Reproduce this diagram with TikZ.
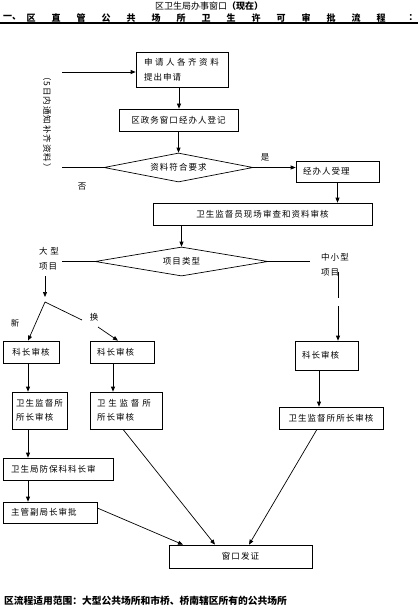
\documentclass[tikz,border=0pt]{standalone}
\usepackage{fontspec}
\setmainfont{Noto Sans CJK SC}
\newfontfamily\bodyface[LetterSpace=12]{Noto Sans CJK SC}
\newfontfamily\wideface[LetterSpace=30]{Noto Sans CJK SC}
\newcommand\myfont{\bodyface\fontsize{8.5}{14.5}\selectfont}
\usetikzlibrary{arrows.meta,shapes.geometric,calc}
\begin{document}
\begin{tikzpicture}[x=1pt,y=-1pt,
  box/.style={draw, line width=0.7pt, inner sep=0pt, font=\myfont, align=left},
  lbox/.style={box, inner xsep=7pt, align=left},
  dia/.style={draw, line width=0.7pt, diamond, aspect=5, inner sep=0pt, font=\myfont},
  lab/.style={inner sep=0pt, font=\myfont, align=left},
  con/.style={line width=0.7pt},
  arr/.style={con, -{Triangle[length=5pt,width=4pt]}}]
\useasboundingbox (0,0) rectangle (418,615);
% titles
\node[inner sep=0pt, font=\fontsize{9}{11}\selectfont] (t1) at (209,6) {区卫生局办事窗口\textbf{（现在）}};
\node[inner sep=0pt, font=\bfseries\fontsize{9}{11}\selectfont] (t2a) at (12,18) {一、};
\foreach \c [count=\i from 0] in {区,直,管,公,共,场,所,卫,生,许,可,审,批,流,程}
  \node[inner sep=0pt, font=\bfseries\fontsize{9}{11}\selectfont] (t2\i) at (31+25*\i,18) {\c};
\node[inner sep=0pt, font=\bfseries\fontsize{9}{11}\selectfont] (t2z) at (413,18) {：};
\draw[line width=1.2pt] (0,23) -- (418,23);
% top part
\node[lbox, inner xsep=8pt, text width=76pt, minimum height=35pt] (b1) at (182,69.5) {{\wideface\fontsize{8.5}{14.5}\selectfont 申请人各齐资料}\\提出申请};
\node[box, minimum width=119pt, minimum height=22pt] (b2) at (178.5,120) {区政务窗口经办人登记};
\node[dia, minimum width=149pt, minimum height=29pt] (d1) at (178.5,167.5) {资料符合要求};
\node[lbox, text width=69pt, minimum height=21pt] (b3) at (337.5,171.5) {经办人受理};
\node[box, minimum width=219pt, minimum height=22pt] (b4) at (262.5,214) {卫生监督员现场审查和资料审核};
\node[dia, minimum width=173pt, minimum height=29pt] (d2) at (181.5,261.5) {项目类型};
\coordinate (l1) at (62,72);
\coordinate (l2) at (62,167.5);
\node[lab, rotate=-90] (vt) at (47,122) {（5日内通知补齐资料）};
\node[lab] (no) at (82,187) {否};
\node[lab] (yes) at (265,157) {是};
\draw[arr] (l1) -- (l1 -| b1.west);
\draw[con] (d1.west) -- (l2);
\draw[arr] ([xshift=-3pt]b1.south) -- ([xshift=-3pt]b1.south |- b2.north);
\draw[arr] (b2.south) -- (d1.north);
\draw[arr] (d1.east) -- (d1.east -| b3.west);
\draw[arr] (b3.south) -- (b3.south |- b4.north);
\draw[arr] (d2.north |- b4.south) -- (d2.north);
% project type
\node[lab] (big) at (49,259) {大\ 型\\项目};
\node[lab] (small) at (335,265) {中小型\\项目};
\coordinate (lw) at (62,261.5);
\coordinate (re) at (310,261.5);
\draw[con] (d2.west) -- (lw);
\draw[con] (d2.east) -- (re);
\coordinate (v0) at (45,276);
\coordinate (v1) at (45,297);
\coordinate (fk) at (45,302);
\coordinate (h1) at (82,320);
\coordinate (h2) at (98,327);
\coordinate (r0) at (338,272);
\coordinate (r1) at (338,298);
\coordinate (r2) at (338,306);
\node[lab] (xin) at (15,323) {新};
\node[lab] (huan) at (94,317) {换};
% boxes
\node[box, minimum width=56pt, minimum height=22pt] (a1) at (31,352) {科长审核};
\node[lbox, text width=50pt, minimum height=22pt] (bb1) at (122,352) {科长审核};
\node[lbox, text width=49pt, minimum height=29pt] (c1) at (326.5,355.5) {科长审核};
\node[box, minimum width=55pt, minimum height=37pt] (a2) at (39.5,410.5) {卫生监督所\\所长审核};
\node[lbox, text width=58pt, minimum height=37pt] (bb2) at (126,410.5) {卫 生 监 督 所\\所长审核};
\node[box, minimum width=104pt, minimum height=22pt] (c2) at (331,418) {卫生监督所所长审核};
\node[lbox, inner xsep=8pt, text width=94pt, minimum height=22pt] (a3) at (58,469) {卫生局防保科科长审};
\node[lbox, inner xsep=8pt, text width=78pt, minimum height=21pt] (a4) at (50,512.5) {主管副局长审批};
\node[box, minimum width=143pt, minimum height=23pt] (fin) at (240.5,556.5) {窗口发证};
% connectors
\draw[arr] (v0) -- (v1);
\draw[arr] (fk) -- ([xshift=-3pt]a1.north);
\draw[con] (fk) -- (h1);
\draw[arr] (h2) -- ([xshift=-4pt]bb1.north);
\draw[con] (r0) -- (r1);
\draw[arr] (r2) -- (r2 |- c1.north);
\draw[arr] ([xshift=-3pt]a1.south) -- ([xshift=-3pt]a1.south |- a2.north);
\draw[arr] ([xshift=-9pt]bb1.south) -- ([xshift=-9pt]bb1.south |- bb2.north);
\draw[arr] ([xshift=-7.5pt]c1.south) -- ([xshift=-7.5pt]c1.south |- c2.north);
\draw[arr] ([xshift=-11.5pt]a2.south) -- ([xshift=-11.5pt]a2.south |- a3.north);
\draw[arr] ([xshift=-30pt]a3.south) -- ([xshift=-30pt]a3.south |- a4.north);
\draw[arr] ([yshift=4.5pt]a4.east) -- ([xshift=-57.5pt]fin.north);
\draw[arr] ([xshift=-3pt]bb2.south) -- ([xshift=-25.5pt]fin.north);
\draw[arr] ([xshift=-14pt]c2.south) -- ([xshift=8.5pt]fin.north);
% footer
\node[inner sep=0pt, anchor=west, font=\bfseries\fontsize{9.75}{11}\selectfont] (foot) at (4,601) {区流程适用范围：大型公共场所和市桥、桥南辖区所有的公共场所};
\end{tikzpicture}
\end{document}
